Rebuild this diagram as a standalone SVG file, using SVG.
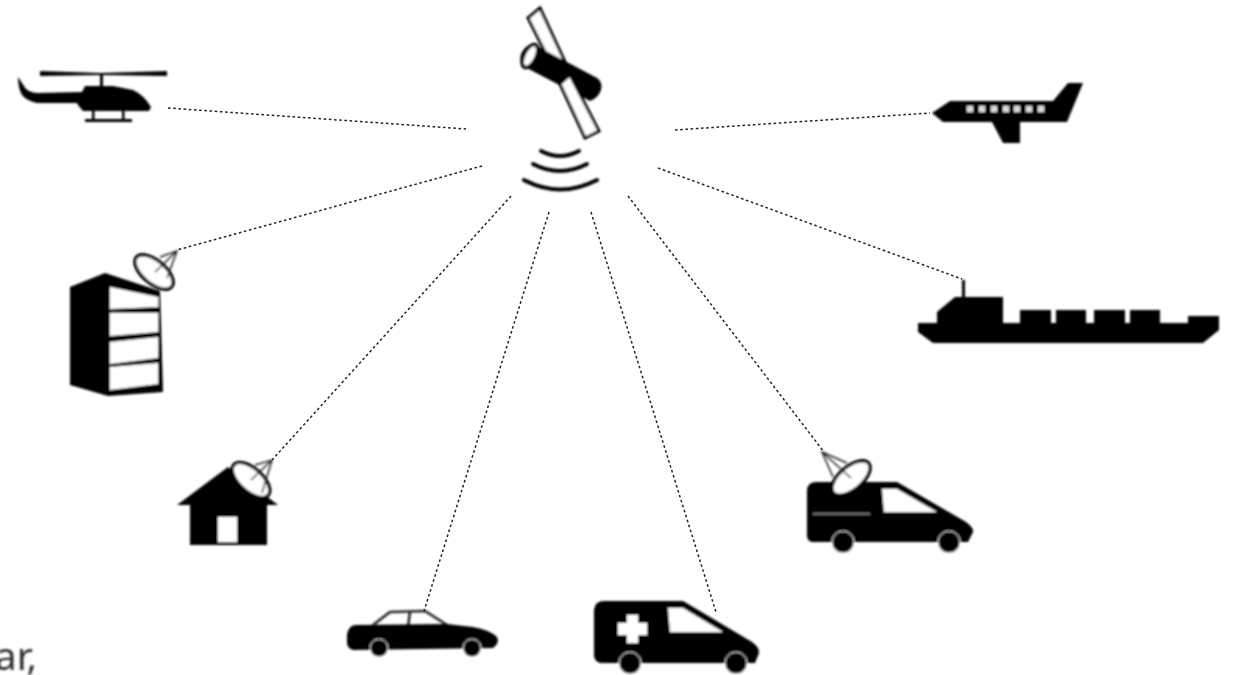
<svg xmlns="http://www.w3.org/2000/svg" width="1233" height="675" viewBox="0 0 1233 675">
<defs>
<filter id="soft" x="-5%" y="-5%" width="110%" height="110%"><feGaussianBlur stdDeviation="0.9"/></filter>
<filter id="softer" x="-5%" y="-5%" width="110%" height="110%"><feGaussianBlur stdDeviation="0.45"/></filter>
<g id="dishShape"><ellipse class="dish" cx="0" cy="0" rx="23" ry="11.5"/></g>
</defs>
<style>
.link{fill:none;stroke:#222;stroke-width:1.5;stroke-dasharray:2.6 2.6}
.solid{fill:#000}
.hole{fill:#fff}
.dish{fill:#fff;stroke:#000;stroke-width:3.4}
.feed{fill:none;stroke:#222;stroke-width:1.5}
.wave{fill:none;stroke:#000;stroke-width:4;stroke-linecap:round}
.wheel{fill:#000;stroke:#fff;stroke-width:0.9}
.label{font-family:"Noto Sans","Open Sans",sans-serif;font-size:39px;fill:#2e2e2e}
</style>
<rect width="1233" height="675" fill="#fff"/>
<g id="connectors" filter="url(#softer)">
<line class="link" x1="168" y1="108" x2="466" y2="129"/>
<line class="link" x1="482" y1="166" x2="177" y2="250"/>
<line class="link" x1="511" y1="196" x2="272" y2="460"/>
<line class="link" x1="549" y1="212" x2="424" y2="611"/>
<line class="link" x1="591" y1="212" x2="716" y2="612"/>
<line class="link" x1="628" y1="196" x2="824" y2="452"/>
<line class="link" x1="658" y1="168" x2="962" y2="279"/>
<line class="link" x1="675" y1="130" x2="930" y2="113"/>
</g>
<g filter="url(#soft)">
<g id="satellite">
<polygon points="540,8 528,18 547,56 566,64" fill="#fff" stroke="#000" stroke-width="3"/>
<path class="solid" d="M533 44L597 78Q603 82 601 90Q598 98 590 101L523 66Q519 62 521 54Q525 45 533 44Z"/>
<ellipse cx="530" cy="56" rx="6" ry="12.5" transform="rotate(27 530 56)" fill="#fff" stroke="#000" stroke-width="3.5"/>
<polygon points="560,84 570,75 599,131 585,138" fill="#fff" stroke="#000" stroke-width="3"/>
<path class="wave" d="M541 151Q560 161 579 151"/>
<path class="wave" d="M533 164Q560 178 587 164"/>
<path class="wave" d="M524 180Q560 199 597 180"/>
</g>
<g id="helicopter">
<polygon class="solid" points="40,71 101,73 167,71 167,76 101,75 40,76"/>
<rect class="solid" x="100" y="73" width="3" height="16"/>
<path class="solid" d="M18 77L26 89Q31 93 38 93L82 92L85 86L113 86L133 90Q144 95 151 107L149 111L83 111L78 105L77 103L37 103Q27 101 22 95Q18 88 18 77Z"/>
<rect class="solid" x="92" y="109" width="2.5" height="11"/>
<rect class="solid" x="122" y="109" width="2.5" height="11"/>
<rect class="solid" x="85" y="119" width="47" height="3"/>
</g>
<g id="airplane">
<polygon class="solid" points="932,113 950,101 1053,101 1068,83 1083,83 1067,122 1020,122 1020,143 1003,143 992,122 943,122"/>
<g fill="#ddd"><rect x="967" y="106" width="6" height="6"/><rect x="979" y="106" width="6" height="6"/><rect x="991" y="106" width="6" height="6"/><rect x="1003" y="106" width="6" height="6"/><rect x="1014" y="106" width="6" height="6"/><rect x="1026" y="106" width="6" height="6"/><rect x="1038" y="106" width="6" height="6"/></g>
</g>
<g id="ship">
<polygon class="solid" points="918,323 937,323 937,312 955,297 962,297 962,280 965,280 965,297 1003,297 1003,323 1020,323 1020,310 1051,310 1051,323 1056,323 1056,310 1086,310 1086,323 1094,323 1094,310 1125,310 1125,323 1130,323 1130,310 1160,310 1160,323 1188,323 1188,316 1219,316 1219,330 1203,343 933,343 918,332"/>
</g>
<g id="building">
<polygon class="solid" points="70,287 105,273 160,291 163,392 108,396 70,385"/>
<polygon class="hole" points="110,287 158,297 158,307 110,309"/>
<polygon class="hole" points="110,313 158,313 158,332 110,336"/>
<polygon class="hole" points="110,342 158,337 158,358 110,364"/>
<polygon class="hole" points="110,367 158,363 158,384 110,390"/>
<use href="#dishShape" transform="translate(154 272) rotate(40)"/>
<path class="feed" d="M160 257L177 251L167 278M177 251L155 272"/>
</g>
<g id="house">
<polygon class="solid" points="228,467 278,505 267,505 267,545 190,545 190,505 177,505"/>
<rect class="hole" x="218" y="517" width="19" height="25"/>
<use href="#dishShape" transform="translate(251 480) rotate(42)"/>
<path class="feed" d="M255 465L272 460L262 493M272 460L251 480"/>
</g>
<g id="car">
<path class="feed" style="stroke:#222;stroke-width:2.6" d="M373 625L390 612L425 611L447 625M410 612L408 627"/>
<path class="solid" d="M347 634Q349 625 356 625L447 624L473 627Q490 630 497 637Q500 643 493 648L353 650Q347 648 347 643Z"/>
<circle class="wheel" cx="379" cy="648" r="9"/>
<circle class="wheel" cx="472" cy="648" r="9"/>
</g>
<g id="ambulance">
<path class="solid" d="M594 610Q595 601 604 601L683 601L752 642Q760 648 759 653L755 663L600 663Q594 661 594 655Z"/>
<polygon class="hole" points="668,608 683,608 723,632 670,632"/>
<path class="hole" d="M627 615H638V623H647V635H638V643H627V635H618V623H627Z"/>
<circle class="wheel" cx="630" cy="663" r="11"/>
<circle class="wheel" cx="736" cy="663" r="11"/>
</g>
<g id="van">
<path class="solid" d="M807 490Q808 482 816 482L897 482L966 522Q974 528 973 532L968 542L812 542Q807 541 807 535Z"/>
<polygon class="hole" points="882,489 897,489 937,512 884,512"/>
<rect x="813" y="513" width="57" height="1.8" fill="#777"/>
<circle class="wheel" cx="843" cy="542" r="11"/>
<circle class="wheel" cx="949" cy="542" r="11"/>
<use href="#dishShape" transform="translate(851 478) rotate(-40)"/>
<path class="feed" d="M847 463L822 452L833 477M822 452L851 478"/>
</g>
<text class="label" x="37" y="670" text-anchor="end">ar,</text>
</g>
</svg>
